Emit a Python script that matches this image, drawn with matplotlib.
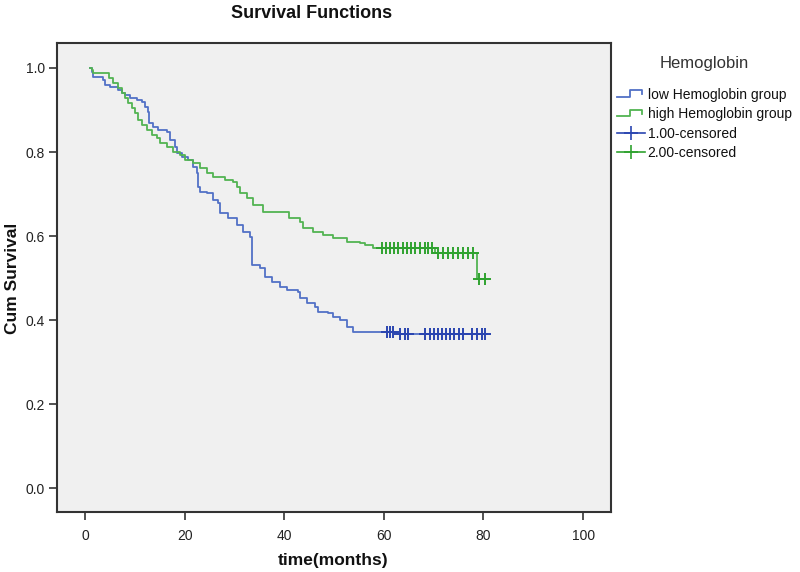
import numpy as np
import matplotlib
matplotlib.use("Agg")
import matplotlib.pyplot as plt
from matplotlib.lines import Line2D
from matplotlib.legend_handler import HandlerBase

plt.rcParams['font.family'] = ['Liberation Sans', 'DejaVu Sans']

# ---- data ----
low_times = [1.0, 1.4, 1.6, 3.6, 4.0, 5.0, 6.6, 7.4, 8.0, 9.0, 10.4, 11.4, 12.0, 12.7, 12.8,
             13.7, 14.7, 16.5, 17.1, 18.1, 18.5, 19.5, 20.7, 21.7, 22.5, 22.7, 23.1, 24.5,
             25.7, 26.7, 27.1, 28.7, 30.5, 31.7, 33.1, 33.5, 35.1, 36.1, 37.6, 39.2, 40.6,
             42.8, 43.2, 44.6, 46.2, 46.8, 48.8, 49.8, 51.2, 52.6, 53.8, 62.7]
low_surv = [1.0, 0.990, 0.979, 0.971, 0.960, 0.955, 0.948, 0.940, 0.936, 0.929, 0.924, 0.919,
            0.907, 0.895, 0.869, 0.860, 0.852, 0.848, 0.829, 0.812, 0.798, 0.788, 0.781,
            0.764, 0.750, 0.717, 0.705, 0.702, 0.686, 0.679, 0.655, 0.643, 0.626, 0.610,
            0.598, 0.531, 0.524, 0.502, 0.490, 0.479, 0.471, 0.467, 0.452, 0.440, 0.431,
            0.419, 0.417, 0.407, 0.400, 0.383, 0.371, 0.366]
low_censored = [60.6, 61.2, 61.8, 63.3, 64.3, 64.9, 68.3, 69.2, 70.0, 70.8, 71.7, 72.5,
                73.3, 74.1, 75.0, 75.8, 77.7, 78.7, 79.7, 80.3]

high_times = [1.0, 1.4, 1.6, 4.8, 5.6, 6.6, 7.4, 8.0, 8.6, 9.4, 10.0, 10.6, 11.4, 12.4,
              13.5, 14.5, 15.1, 16.5, 17.7, 19.1, 20.1, 21.7, 23.1, 24.5, 25.7, 28.1, 29.7,
              30.5, 31.1, 32.5, 33.7, 35.7, 41.0, 43.2, 43.8, 45.8, 47.8, 49.8, 52.6, 55.2,
              56.2, 57.8, 70.2, 78.7]
high_surv = [1.0, 0.995, 0.988, 0.976, 0.964, 0.952, 0.940, 0.929, 0.917, 0.905, 0.893,
             0.876, 0.864, 0.852, 0.840, 0.833, 0.821, 0.812, 0.800, 0.793, 0.781, 0.774,
             0.762, 0.750, 0.740, 0.733, 0.729, 0.717, 0.702, 0.690, 0.674, 0.657, 0.643,
             0.633, 0.619, 0.610, 0.602, 0.595, 0.586, 0.583, 0.579, 0.571, 0.560, 0.497]
high_censored = [59.6, 60.4, 61.2, 62.0, 62.8, 63.9, 64.7, 65.5, 66.3, 67.3, 68.3, 68.9,
                 69.7, 70.9, 71.9, 72.9, 73.9, 74.9, 75.9, 76.9, 77.9, 79.2, 80.3]

legend_labels = ["low Hemoglobin group", "high Hemoglobin group",
                 "1.00-censored", "2.00-censored"]
x_ticks = [0, 20, 40, 60, 80, 100]
y_ticks = [0.0, 0.2, 0.4, 0.6, 0.8, 1.0]

# ---- styling ----
c_low = '#5271c6'
c_high = '#52b452'
c_low_cens = '#2a45b0'
c_high_cens = '#2fa22f'


def surv_at(times, surv, t):
    idx = np.searchsorted(np.asarray(times), t, side='right') - 1
    return np.asarray(surv)[idx]


fig = plt.figure(figsize=(8.0, 5.72), dpi=100)
ax = fig.add_axes([57.5 / 800, 1 - 512 / 572, 553.5 / 800, 469 / 572])
ax.set_facecolor('#f0f0f0')

# extend to last censor time
lt = list(low_times) + [max(low_censored)]
ls = list(low_surv) + [low_surv[-1]]
ht = list(high_times) + [max(high_censored)]
hs = list(high_surv) + [high_surv[-1]]

ax.step(lt, ls, where='post', color=c_low, lw=1.3)
ax.step(ht, hs, where='post', color=c_high, lw=1.3)

ax.plot(low_censored, surv_at(low_times, low_surv, low_censored), ls='none',
        marker='+', ms=8, mew=1.4, color=c_low_cens)
ax.plot(high_censored, surv_at(high_times, high_surv, high_censored), ls='none',
        marker='+', ms=8, mew=1.4, color=c_high_cens)

ax.set_xlim(-5.52, 105.6)
ax.set_ylim(-0.057, 1.0595)
ax.set_xticks(x_ticks)
ax.set_xticklabels([str(v) for v in x_ticks])
ax.set_yticks(y_ticks)
ax.set_yticklabels([f"{v:.1f}" for v in y_ticks])
ax.tick_params(axis='both', direction='out', length=6, width=1.2, color='#333333',
               labelsize=10, labelcolor='#222222')
ax.tick_params(axis='x', pad=6)
ax.tick_params(axis='y', pad=3)
for s in ax.spines.values():
    s.set_color('#333333')
    s.set_linewidth(1.5)

fig.text(333 / 800, 1 - 561 / 572, 'time(months)', ha='center', va='center',
         fontsize=12.5, fontweight='bold', color='#111111')
fig.text(13 / 800, 1 - 278 / 572, 'Cum Survival', ha='center', va='center',
         rotation=90, fontsize=12.5, fontweight='bold', color='#111111')
fig.text(312 / 800, 1 - 14 / 572, 'Survival Functions', ha='center', va='center',
         fontsize=13, fontweight='bold', color='#111111')


class StepHandler(HandlerBase):
    def create_artists(self, legend, orig_handle, xdescent, ydescent, width, height,
                       fontsize, trans):
        x0 = -xdescent
        y0 = -ydescent
        xs = [x0, x0 + 0.45 * width, x0 + 0.45 * width, x0 + 0.9 * width, x0 + 0.9 * width]
        ys = [y0 + 0.2 * height, y0 + 0.2 * height, y0 + 0.85 * height,
              y0 + 0.85 * height, y0 + 0.45 * height]
        ln = Line2D(xs, ys, color=orig_handle.get_color(), lw=1.3)
        ln.set_transform(trans)
        return [ln]


h1 = Line2D([], [], color=c_low)
h2 = Line2D([], [], color=c_high)
h3 = Line2D([], [], color=c_low_cens, marker='+', ms=10, mew=1.2, lw=1.2)
h4 = Line2D([], [], color=c_high_cens, marker='+', ms=10, mew=1.2, lw=1.2)
leg = ax.legend([h1, h2, h3, h4], legend_labels,
                handler_map={h1: StepHandler(), h2: StepHandler()},
                loc='upper left', bbox_to_anchor=(617 / 800, 1 - 56 / 572),
                bbox_transform=fig.transFigure, frameon=False, fontsize=10.0,
                title='Hemoglobin', title_fontsize=12, handlelength=2.0,
                handletextpad=0.2, labelspacing=0.4, borderaxespad=0, borderpad=0)
leg._legend_box.sep = 12
leg.get_title().set_color('#333333')
for t in leg.get_texts():
    t.set_color('#111111')

fig.savefig('out.png', dpi=100, facecolor='white')
